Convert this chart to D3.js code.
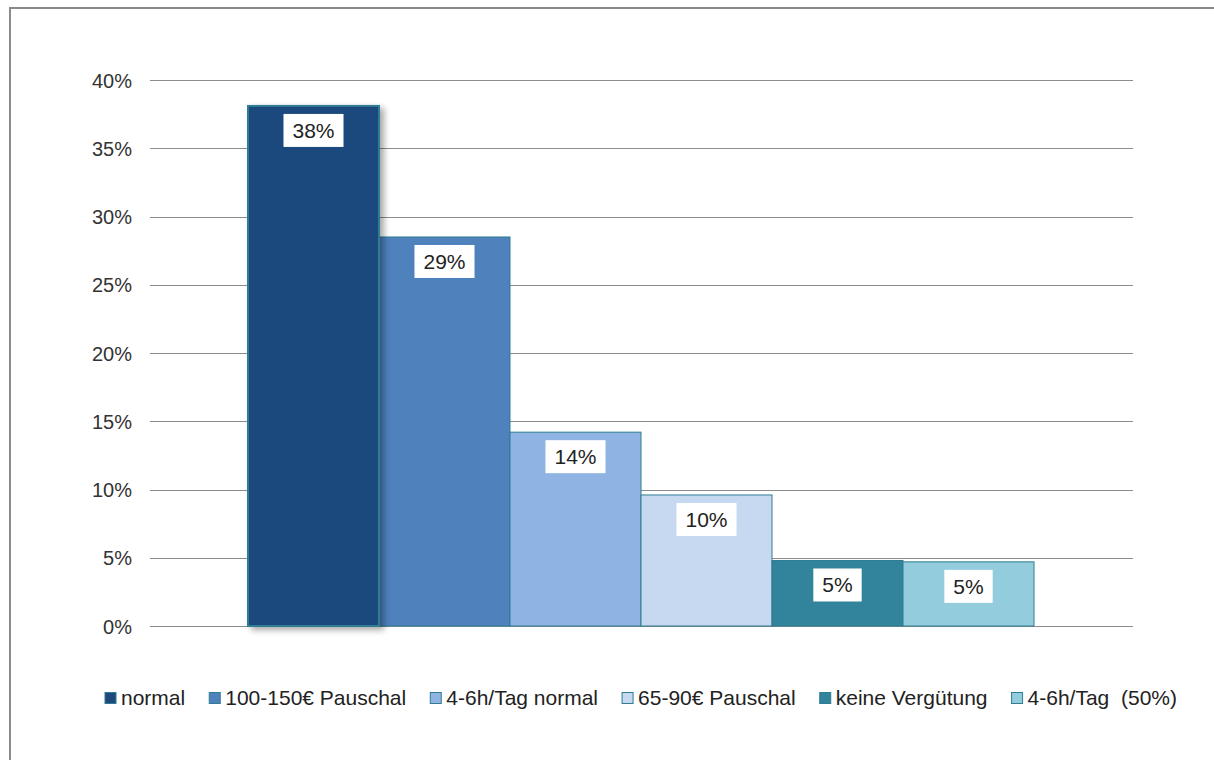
<!DOCTYPE html>
<html><head><meta charset="utf-8">
<script src="https://cdn.jsdelivr.net/npm/d3@7"></script>
<style>body{margin:0;background:#fff}svg{display:block}text{font-family:"Liberation Sans",Arial,sans-serif}</style>
</head><body>
<svg id="c" width="1214" height="760"></svg>
<script>
const categories = ["normal","100-150€ Pauschal","4-6h/Tag normal","65-90€ Pauschal","keine Vergütung","4-6h/Tag  (50%)"];
const values = [0.381, 0.285, 0.142, 0.096, 0.048, 0.047];
const labels = ["38%","29%","14%","10%","5%","5%"];
const colors = ["#1f497d","#4f81bd","#8fb4e3","#c6d9f1","#31849b","#93cddd"];
const yTicks = [0,0.05,0.10,0.15,0.20,0.25,0.30,0.35,0.40];

const svg = d3.select("#c");
const defs = svg.append("defs");
const f = defs.append("filter").attr("id","sh").attr("x","-20%").attr("y","-20%").attr("width","150%").attr("height","150%");
f.append("feDropShadow").attr("dx",4).attr("dy",3).attr("stdDeviation",3).attr("flood-color","#000").attr("flood-opacity",0.35);

svg.append("rect").attr("x",10).attr("y",8).attr("width",1230).attr("height",780)
  .attr("fill","#fff").attr("stroke","#8a8a8a").attr("stroke-width",2);

const L=150, R=1133, T=80, B=626;
const y = d3.scaleLinear().domain([0,0.4]).range([B,T]);
const x = d3.scaleBand().domain(categories).range([248,1034]).padding(0);

const g = svg.append("g");
g.selectAll("line.grid").data(yTicks).join("line").attr("class","grid")
  .attr("x1",L).attr("x2",R).attr("y1",d=>Math.round(y(d))+0.5).attr("y2",d=>Math.round(y(d))+0.5)
  .attr("stroke","#8c8c8c").attr("stroke-width",1);

const yAxis = d3.axisLeft(y).tickValues(yTicks).tickFormat(d3.format(".0%")).tickSize(0).tickPadding(0);
const ya = svg.append("g").attr("transform","translate(132,0)").call(yAxis);
ya.select(".domain").remove();
ya.selectAll("text").attr("font-size","20px").attr("fill","#333").attr("font-family","Liberation Sans, Arial, sans-serif").attr("dy","0.35em");

const order = [1,2,3,4,5,0];
g.selectAll("rect.bar").data(order).join("rect").attr("class","bar")
  .attr("x",i=>x(categories[i])).attr("width",x.bandwidth())
  .attr("y",i=>y(values[i])).attr("height",i=>B-y(values[i]))
  .attr("fill",i=>colors[i]).attr("stroke","#2e7d92").attr("stroke-width",i=>i===0?2:1)
  .attr("filter",i=>i===0?"url(#sh)":null);

const lg = svg.append("g");
categories.forEach((c,i)=>{
  const cx = x(c)+x.bandwidth()/2, cy = y(values[i])+24.5;
  const t = lg.append("text").attr("x",cx).attr("y",cy).attr("text-anchor","middle").attr("dy","0.35em")
    .attr("font-size","21px").attr("fill","#222").text(labels[i]);
  const w = t.node().getComputedTextLength();
  lg.insert("rect","text").attr("x",cx-w/2-9).attr("y",cy-16.5).attr("width",w+18).attr("height",33).attr("fill","#fff");
});
lg.selectAll("text").raise();

const leg = svg.append("g");
const items = categories.map((c,i)=>{
  const gi = leg.append("g");
  gi.append("rect").attr("x",0).attr("y",-5.5).attr("width",11).attr("height",11).attr("fill",colors[i]).attr("stroke","#2e7d92").attr("stroke-width",1);
  const t = gi.append("text").attr("x",16).attr("y",0).attr("dy","0.35em").attr("font-size","21px").attr("fill","#222").style("white-space","pre").text(c);
  return {gi, w:16+t.node().getComputedTextLength()};
});
const total = 1072;
const gap = (total - d3.sum(items,d=>d.w))/(items.length-1);
let cx = 105;
items.forEach(it=>{ it.gi.attr("transform",`translate(${cx},698)`); cx += it.w+gap; });
</script>
</body></html>
